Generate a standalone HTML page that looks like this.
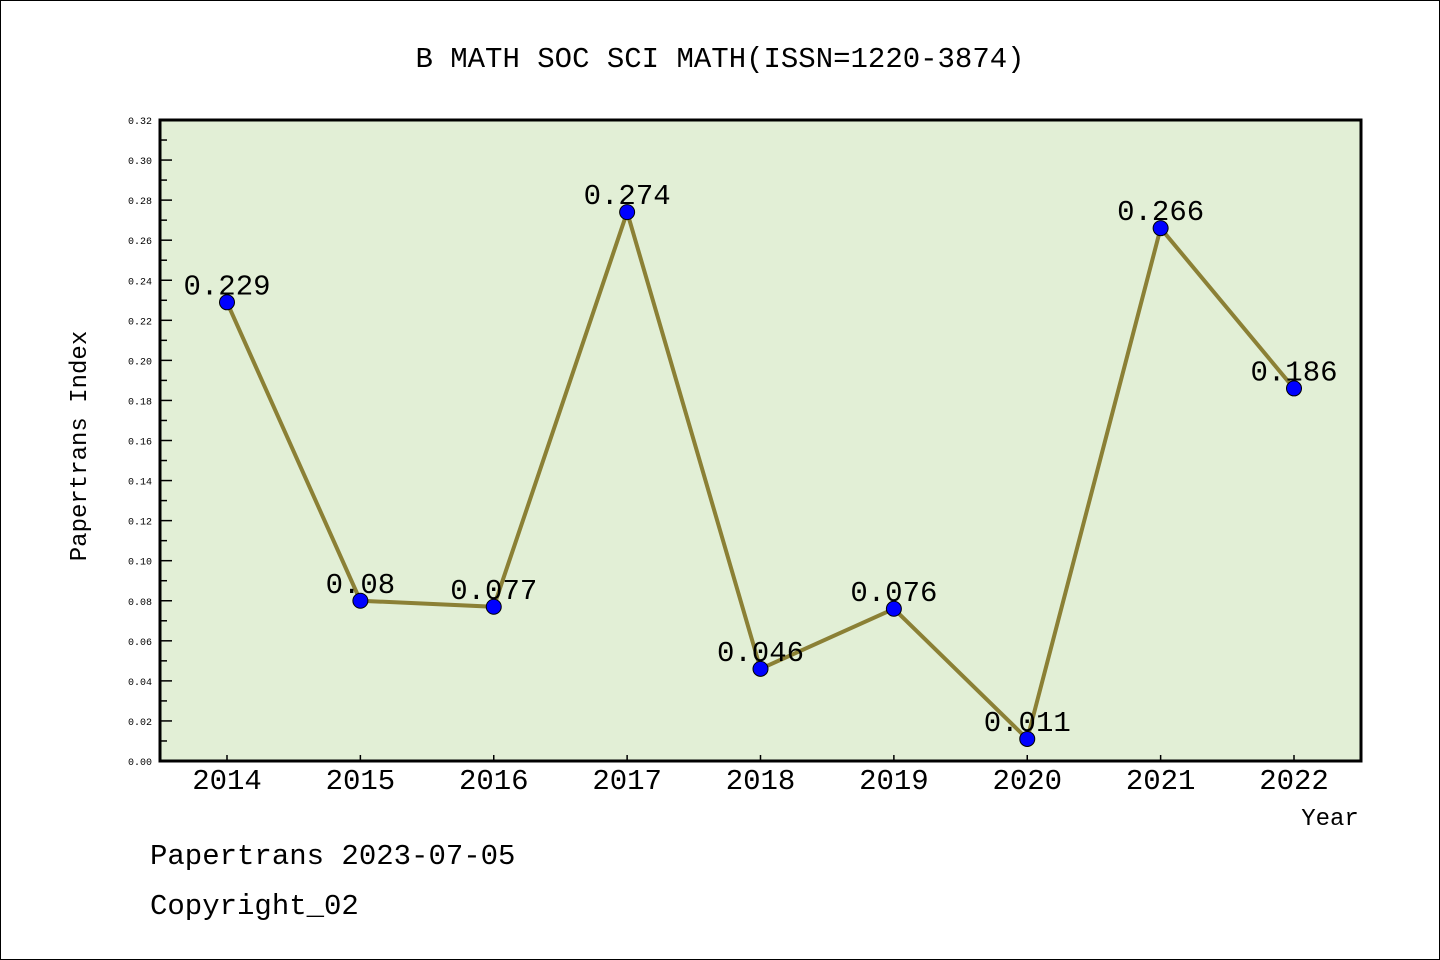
<!DOCTYPE html>
<html><head><meta charset="utf-8"><style>
html,body{margin:0;padding:0;background:#fff}
svg{display:block}
text{font-family:"Liberation Mono","DejaVu Sans Mono",monospace}
</style></head><body>
<svg id="chart" width="1440" height="960" xmlns="http://www.w3.org/2000/svg">
<rect x="0.5" y="0.5" width="1439" height="959" fill="#fff" stroke="#000"/>
<text x="720" y="67" text-anchor="middle" font-size="29">B MATH SOC SCI MATH(ISSN=1220-3874)</text>
<rect x="160" y="120" width="1201" height="641" fill="#e2efd6"/>
<g id="yaxis"></g>
<g id="xaxis"></g>
<g id="series"></g>
<rect x="160" y="120" width="1201" height="641" fill="none" stroke="#000" stroke-width="3"/>
<text x="86" y="446" text-anchor="middle" font-size="24" transform="rotate(-90 86 446)">Papertrans Index</text>
<text x="1330" y="825" text-anchor="middle" font-size="24">Year</text>
<text x="150" y="864" font-size="29">Papertrans 2023-07-05</text>
<text x="150" y="914" font-size="29">Copyright_02</text>
</svg>
<script>
const categories=["2014","2015","2016","2017","2018","2019","2020","2021","2022"];
const values=[0.229,0.08,0.077,0.274,0.046,0.076,0.011,0.266,0.186];
const valueLabels=["0.229","0.08","0.077","0.274","0.046","0.076","0.011","0.266","0.186"];
const yTicks=[0,0.02,0.04,0.06,0.08,0.10,0.12,0.14,0.16,0.18,0.20,0.22,0.24,0.26,0.28,0.30,0.32];
const NS="http://www.w3.org/2000/svg";
const x=i=>227+i*(1294-227)/(categories.length-1);
const y=v=>761-v*(641/0.32);
function mk(t,a,p){const e=document.createElementNS(NS,t);for(const k in a)e.setAttribute(k,a[k]);p.appendChild(e);return e;}
const ya=document.getElementById('yaxis'),xa=document.getElementById('xaxis'),se=document.getElementById('series');
yTicks.forEach((v,i)=>{
  const l=mk('line',{x1:160,x2:172,y1:y(v),y2:y(v),stroke:'#000','stroke-width':1.5},ya);
  
  
  const t=mk('text',{x:152,y:y(v)+4,'text-anchor':'end','font-size':10,'font-family':'Liberation Sans, sans-serif'},ya);
  t.textContent=v.toFixed(2);
  
  
  if(i<yTicks.length-1){
    const m=mk('line',{x1:160,x2:167,y1:y(v+0.01),y2:y(v+0.01),stroke:'#000','stroke-width':1.5},ya);
    
    
  }
});
categories.forEach((c,i)=>{
  const l=mk('line',{x1:x(i),x2:x(i),y1:761,y2:755,stroke:'#000','stroke-width':1.5},xa);
  
  
  const t=mk('text',{x:x(i),y:789,'text-anchor':'middle','font-size':29,'font-family':'Liberation Sans, sans-serif'},xa);
  t.textContent=c;
  
  
});
const pl=mk('polyline',{points:values.map((v,i)=>x(i)+','+y(v)).join(' '),fill:'none',stroke:'#8b8035','stroke-width':4},se);


values.forEach((v,i)=>{
  const c=mk('circle',{cx:x(i),cy:y(v),r:7.5,fill:'#0000ff',stroke:'#000','stroke-width':1},se);
  
  
});
values.forEach((v,i)=>{
  const t=mk('text',{x:x(i),y:y(v)-8,'text-anchor':'middle','font-size':29},se);
  t.textContent=valueLabels[i];
  
  
});
</script>
</body></html>
